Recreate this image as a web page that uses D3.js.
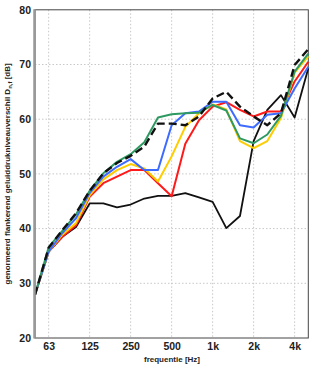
<!DOCTYPE html>
<html><head><meta charset="utf-8">
<script src="https://cdn.jsdelivr.net/npm/d3@7"></script>
<style>
body{margin:0;background:#fff;}
text{font-family:"Liberation Sans",Arial,sans-serif;font-weight:bold;fill:#222;}
</style></head>
<body><svg id="c" width="330" height="369"></svg>
<script>
const bands = ["50","63","80","100","125","160","200","250","315","400","500","630","800","1k","1.25k","1.6k","2k","2.5k","3.15k","4k","5k"];
const xTickLabels = ["63","125","250","500","1k","2k","4k"];
const yTicks = [20,30,40,50,60,70,80];

const blackSolid = [27.9,35.8,38.5,40.3,44.6,44.6,43.9,44.4,45.5,46.0,46.0,46.5,45.7,44.9,40.1,42.3,56.0,61.7,64.4,60.3,69.3];
const red        = [27.9,35.8,38.5,40.6,45.8,48.3,49.5,50.7,50.7,48.3,45.9,55.5,59.8,62.3,63.1,61.7,60.5,61.4,61.4,66.9,70.5];
const yellow     = [27.9,35.8,38.9,41.0,46.1,49.0,50.7,51.8,51.0,48.6,53.2,58.6,61.1,62.7,61.8,56.0,54.7,56.0,60.2,68.5,71.5];
const blue       = [27.9,35.8,39.2,41.9,46.5,49.5,51.3,52.7,50.7,50.7,58.9,61.1,61.4,63.2,63.2,58.9,58.5,60.8,61.1,65.6,69.6];
const green      = [27.9,36.6,39.6,42.6,46.9,50.1,52.2,53.6,55.8,60.3,60.9,61.1,61.2,62.6,61.6,56.5,55.6,57.2,60.6,68.7,72.0];
const blackDash  = [27.9,36.5,39.7,42.8,46.9,50.1,52.0,53.3,55.0,59.2,59.2,58.9,60.5,63.8,65.0,62.3,60.5,58.9,61.1,69.9,72.8];

const series = [
  {v:blackSolid, c:"#111", w:1.8, dash:null},
  {v:red, c:"#ff1a1a", w:2, dash:null},
  {v:yellow, c:"#ffcc00", w:2, dash:null},
  {v:blue, c:"#3d6bff", w:2, dash:null},
  {v:green, c:"#2e9a62", w:2, dash:null},
  {v:blackDash, c:"#111", w:2.4, dash:"8,4"}
];

const svg = d3.select("#c");
const L=35, R=308.3, T=9.8, B=338;
const x = d3.scalePoint().domain(bands).range([L,R]);
const y = d3.scaleLinear().domain([20,80]).range([B,T]);

// grid
svg.append("g").selectAll("line").data(xTickLabels).join("line")
  .attr("x1",d=>x(d)).attr("x2",d=>x(d)).attr("y1",T).attr("y2",B)
  .attr("stroke","#c8c8c8").attr("stroke-dasharray","1.5,2").attr("stroke-width",1);
svg.append("g").selectAll("line").data(yTicks.slice(1,-1)).join("line")
  .attr("x1",L).attr("x2",R).attr("y1",d=>y(d)).attr("y2",d=>y(d))
  .attr("stroke","#c8c8c8").attr("stroke-dasharray","1.5,2").attr("stroke-width",1);

// frame
svg.append("rect").attr("x",L).attr("y",T).attr("width",R-L).attr("height",B-T)
  .attr("fill","none").attr("stroke","#444").attr("stroke-width",1);

// lines
const line = d3.line().x((d,i)=>x(bands[i])).y(d=>y(d));
svg.append("g").selectAll("path").data(series).join("path")
  .attr("d",d=>line(d.v)).attr("fill","none").attr("stroke",d=>d.c)
  .attr("stroke-width",d=>d.w).attr("stroke-dasharray",d=>d.dash)
  .attr("stroke-linejoin","round");

// left axis (thick gray)
svg.append("line").attr("x1",L-0.5).attr("x2",L-0.5).attr("y1",T-0.5).attr("y2",B+0.5)
  .attr("stroke","#999").attr("stroke-width",2.5);

// axes labels
const xa = d3.axisBottom(x).tickValues(xTickLabels).tickSize(0).tickPadding(5);
const gx = svg.append("g").attr("transform",`translate(0,${B})`).call(xa);
gx.select(".domain").remove();
gx.selectAll("text").attr("font-size","10.5px").attr("fill","#222")
  .style("font-family","'Liberation Sans',Arial,sans-serif").style("font-weight","bold");

const ya = d3.axisLeft(y).tickValues(yTicks).tickSize(0).tickPadding(3);
const gy = svg.append("g").attr("transform",`translate(${L-1},0)`).call(ya);
gy.select(".domain").remove();
gy.selectAll("text").attr("font-size","10.5px").attr("fill","#222")
  .style("font-family","'Liberation Sans',Arial,sans-serif").style("font-weight","bold");

svg.append("text").attr("x",172).attr("y",362).attr("text-anchor","middle")
  .attr("font-size","8px").text("frequentie [Hz]");

const yt = svg.append("text").attr("transform",`translate(10,${(T+B)/2}) rotate(-90)`)
  .attr("text-anchor","middle").attr("font-size","8px");
yt.append("tspan").text("genormeerd flankerend geluiddrukniveauverschil D");
yt.append("tspan").attr("font-size","6px").attr("dy","2").text("n,f");
yt.append("tspan").attr("dy","-2").text(" [dB]");
</script></body></html>
